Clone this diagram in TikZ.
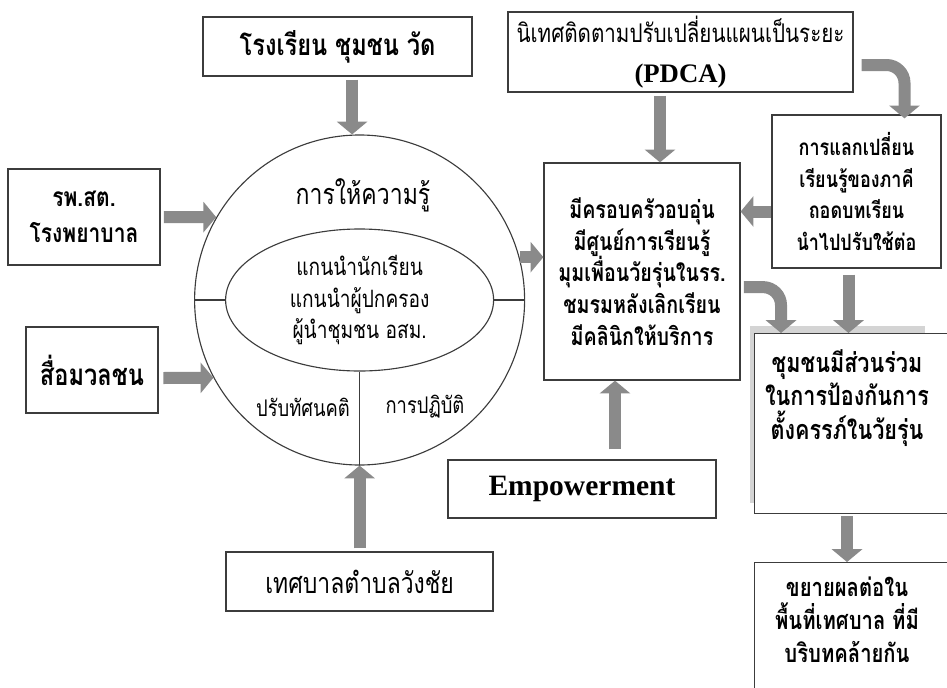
\documentclass[tikz,border=0pt]{standalone}
\usepackage{fontspec}
\newfontfamily\thaifont[Script=Thai,FakeStretch=0.8]{Loma}
\newfontfamily\romanfont{Liberation Serif}
\usepackage{tikz}
\usetikzlibrary{positioning}
\usetikzlibrary{arrows.meta,shapes.geometric}

\definecolor{boxline}{RGB}{60,60,60}
\definecolor{arrowgray}{RGB}{138,138,138}
\definecolor{shadowgray}{RGB}{212,212,212}

\tikzset{
	box/.style={draw=boxline, line width=0.9pt, fill=white, inner sep=0pt, align=center},
	ring/.style={draw=boxline, line width=0.8pt},
	fatarrow/.style={draw=arrowgray, line width=0.3cm, -{Triangle[width=0.75cm,length=0.32cm]}},
	bentarrow/.style={fatarrow, rounded corners=0.45cm},
	bigthai/.style={font=\thaifont\bfseries\fontsize{21}{26}\selectfont},
	boldthai/.style={font=\thaifont\bfseries\fontsize{17.5}{22.5}\selectfont},
	plainthai/.style={font=\thaifont\fontsize{17}{22.4}\selectfont},
}

\begin{document}
\begin{tikzpicture}

	% ------------------------------------------------
	% Ensure the dimensions of graphic are appropriate
	\useasboundingbox (0,0) rectangle (23.675cm,-17.175cm);
	\clip (0,0) rectangle (23.675cm,-17.175cm);

	% ------------------------------------------------
	% Relevant coordinates
	\coordinate (CircC) at (8.99cm,-7.50cm);
	\coordinate (CommuNW) at (18.85cm,-8.325cm);
	\coordinate (ExpandNW) at (18.85cm,-14.05cm);

	% ----------------
	% Circle with the leaders
	\node[ring, circle, minimum size=8.25cm, inner sep=0pt] (Circ) at (CircC) {};
	\node[ring, ellipse, minimum width=6.7cm, minimum height=3.55cm, inner sep=0pt, align=center, plainthai] (Lead) at (CircC) {แกนนำนักเรียน\\แกนนำผู้ปกครอง\\ผู้นำชุมชน อสม.};

	\draw[ring] (Circ.west) -- (Lead.west);
	\draw[ring] (Lead.east) -- (Circ.east);
	\draw[ring] (Lead.south) -- (Circ.south);

	\node[font=\thaifont\fontsize{20.5}{24}\selectfont] (Know) at (9.075cm,-4.875cm) {การให้ความรู้};
	\node[font=\thaifont\fontsize{16.3}{20}\selectfont] (Attit) at (7.575cm,-10.175cm) {ปรับทัศนคติ};
	\node[font=\thaifont\fontsize{16.3}{20}\selectfont] (Pract) at (10.625cm,-10.175cm) {การปฏิบัติ};

	% ----------------
	% Boxes on the left
	\node[box, bigthai, minimum width=6.725cm, minimum height=1.475cm] (School) at (8.44cm,-1.16cm) {โรงเรียน ชุมชน วัด};
	\node[box, minimum width=3.8cm, minimum height=2.4cm, font=\thaifont\bfseries\fontsize{18.7}{26}\selectfont] (Hosp) at (2.1cm,-5.425cm) {รพ.สต.\\โรงพยาบาล};
	\node[box, bigthai, minimum width=3.3cm, minimum height=2.15cm] (Media) at (2.3cm,-9.25cm) {สื่อมวลชน};
	\node[box, minimum width=6.675cm, minimum height=1.475cm, font=\thaifont\fontsize{20.4}{24}\selectfont] (Wang) at (8.99cm,-14.54cm) {เทศบาลตำบลวังชัย};

	% ----------------
	% Boxes on the right
	\node[box, boldthai, minimum width=4.9cm, minimum height=5.425cm] (Central) at (16.05cm,-6.7875cm) {มีครอบครัวอบอุ่น\\มีศูนย์การเรียนรู้\\มุมเพื่อนวัยรุ่นในรร.\\ชมรมหลังเลิกเรียน\\มีคลินิกให้บริการ};
	\node[box, minimum width=8.625cm, minimum height=2.0cm, font=\thaifont\fontsize{18.3}{28.5}\selectfont] (PDCA) at (17.0125cm,-1.3cm) {นิเทศติดตามปรับเปลี่ยนแผนเป็นระยะ\\{\romanfont\bfseries\fontsize{19}{28.5}\selectfont (PDCA)}};
	\node[box, minimum width=4.225cm, minimum height=3.825cm, font=\thaifont\bfseries\fontsize{16}{22.6}\selectfont] (Share) at (21.4125cm,-4.7875cm) {การแลกเปลี่ยน\\เรียนรู้ของภาคี\\ถอดบทเรียน\\นำไปปรับใช้ต่อ};
	\node[box, minimum width=6.7cm, minimum height=1.45cm, font=\romanfont\bfseries\fontsize{21}{24}\selectfont] (Empower) at (14.55cm,-12.225cm) {Empowerment};

	\fill[shadowgray] (18.75cm,-8.15cm) rectangle (23.125cm,-12.575cm);
	\node[box, anchor=north west, minimum width=5.75cm, minimum height=4.5cm] (CommuBox) at (CommuNW) {};
	\node[align=center, font=\thaifont\bfseries\fontsize{19.2}{23.8}\selectfont] (CommuTxt) at (21.175cm,-9.95cm) {ชุมชนมีส่วนร่วม\\ในการป้องกันการ\\ตั้งครรภ์ในวัยรุ่น};
	\node[box, anchor=north west, minimum width=5.75cm, minimum height=4.5cm] (ExpandBox) at (ExpandNW) {};
	\node[align=center, font=\thaifont\bfseries\fontsize{18}{23.5}\selectfont] (ExpandTxt) at (21.175cm,-15.5cm) {ขยายผลต่อใน\\พื้นที่เทศบาล ที่มี\\บริบทคล้ายกัน};

	%%%%%%%%%%%%%%%%%%%%%%%%%%%%%%%%%%%%%%%%%
	% Arrows
	\draw[fatarrow] ([xshift=0.3625cm,yshift=-0.08cm]School.south) -- ([xshift=0.3625cm]School.south |- Circ.north);
	\draw[fatarrow] ([xshift=0.08cm]Hosp.east) -- (Circ.150);
	\draw[fatarrow] ([xshift=0.12cm,yshift=-0.2cm]Media.east) -- (Circ.208);
	\draw[fatarrow] ([yshift=0.08cm]Wang.north) -- (Circ.south);
	\draw[fatarrow] (Circ.15) -- (Circ.15 -| Central.west);

	\draw[fatarrow] ([xshift=0.45cm,yshift=-0.08cm]Central.north |- PDCA.south) -- ([xshift=0.45cm]Central.north);
	\draw[fatarrow] ([xshift=0.825cm,yshift=0.25cm]Empower.north) -- ([xshift=0.825cm]Empower.north |- Central.south);
	\draw[fatarrow] ([yshift=-0.5cm]Share.west) -- ([yshift=-0.5cm]Share.west -| Central.east);
	\draw[bentarrow] ([xshift=0.2cm,yshift=-0.325cm]PDCA.east) -| ([xshift=1.2cm,yshift=-0.1cm]Share.north);
	\draw[fatarrow] ([xshift=-0.2cm,yshift=-0.15cm]Share.south) -- ([xshift=-0.2cm]Share.south |- CommuBox.north);
	\draw[bentarrow] ([xshift=0.08cm,yshift=-0.39cm]Central.east) -| ([xshift=0.675cm]CommuBox.north west);
	\draw[fatarrow] ([yshift=-0.05cm]CommuTxt.center |- CommuBox.south) -- (CommuTxt.center |- ExpandBox.north);

\end{tikzpicture}
\end{document}
